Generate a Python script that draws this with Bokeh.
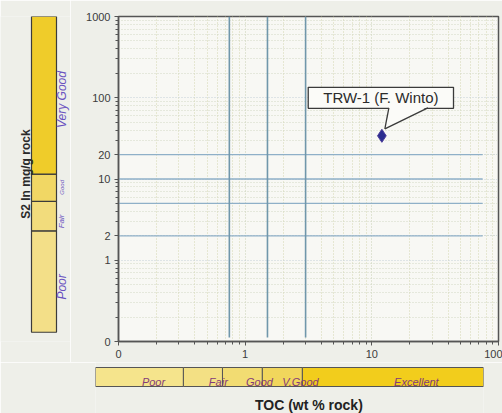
import math

from bokeh.plotting import figure
from bokeh.layouts import row, column
from bokeh.models import Range1d, FixedTicker, CustomJSTickFormatter
from bokeh.core.properties import value
from bokeh.embed import file_html
from bokeh.resources import INLINE

# ---- data -------------------------------------------------------------
sample_names = ["TRW-1 (F. Winto)"]
sample_toc = [12.0]          # wt %
sample_s2 = [34.0]           # mg/g rock

x_ticks = [0.1, 1, 10, 100]
y_ticks = [0.1, 1, 2, 10, 20, 100, 1000]

# guide lines across the plot
toc_guides = [0.75, 1.5, 3.0]
s2_guides = [2, 5, 10, 20]
s2_guide_end = 75

# S2 rating strip (left)
s2_classes = ["Poor", "Fair", "Good", "Very Good"]
s2_bounds = [0.13, 2.3, 5.3, 11.5, 1000]
s2_label_pos = [0.47, 3.0, 7.9, 95]

# TOC rating strip (bottom)
toc_classes = ["Poor", "Fair", "Good", "V.Good", "Excellent"]
toc_bounds = [0.066, 0.325, 0.66, 1.36, 2.81, 75]
toc_label_pos = [0.189, 0.612, 1.29, 2.71, 22.2]

# ---- styling ----------------------------------------------------------
PAGE = "#eeefe9"
PANEL = "#f8f8f4"
AXIS = "#555555"
FONT_NAME = "Liberation Sans"
FONT = value(FONT_NAME)

FRAME_W, FRAME_H = 380, 325
PX_X = FRAME_W / math.log10(x_ticks[-1] / x_ticks[0])
PX_Y = FRAME_H / math.log10(y_ticks[-1] / y_ticks[0])


def nudge(v, px, per_decade):
    """Shift a log-scaled value by a number of screen pixels."""
    return v * 10 ** (px / per_decade)


def log_minor(lo_exp, hi_exp):
    return [k * 10.0 ** e for e in range(lo_exp, hi_exp) for k in range(2, 10)]


# ---- main plot --------------------------------------------------------
p = figure(width=432, height=362, x_axis_type="log", y_axis_type="log",
           x_range=Range1d(x_ticks[0], x_ticks[-1]),
           y_range=Range1d(y_ticks[0], y_ticks[-1]),
           output_backend="svg", toolbar_location=None,
           min_border_left=48, min_border_right=4,
           min_border_top=16, min_border_bottom=21)
p.background_fill_color = PANEL
p.border_fill_color = PAGE
p.outline_line_color = AXIS
p.outline_line_width = 1.5

p.xaxis.ticker = FixedTicker(ticks=x_ticks, minor_ticks=log_minor(-1, 2))
p.yaxis.ticker = FixedTicker(ticks=y_ticks, minor_ticks=log_minor(-1, 3))
fmt = "return tick < 0.5 ? '0' : String(tick);"
p.xaxis.formatter = CustomJSTickFormatter(code=fmt)
p.yaxis.formatter = CustomJSTickFormatter(code=fmt)

for ax in (p.xaxis, p.yaxis):
    ax.axis_line_color = AXIS
    ax.axis_line_width = 1.5
    ax.major_tick_line_color = AXIS
    ax.minor_tick_line_color = AXIS
    ax.major_tick_out = 4
    ax.major_tick_in = 0
    ax.minor_tick_out = 3
    ax.minor_tick_in = 0
    ax.major_label_standoff = 4
    ax.major_label_text_font = FONT_NAME
    ax.major_label_text_font_size = "11px"
    ax.major_label_text_color = "#3c3c3c"

p.xgrid.grid_line_color = "#c9d0b4"
p.xgrid.grid_line_dash = "1 2"
p.xgrid.minor_grid_line_color = "#d4d7b0"
p.xgrid.minor_grid_line_dash = "1 2"
p.ygrid.grid_line_color = "#c4d0d8"
p.ygrid.grid_line_dash = "1 2"
p.ygrid.minor_grid_line_color = "#d2d9c4"
p.ygrid.minor_grid_line_dash = "1 2"

# horizontal S2 guides
p.segment(x0=[x_ticks[0]] * len(s2_guides), y0=s2_guides,
          x1=[s2_guide_end] * len(s2_guides), y1=s2_guides,
          line_color="#8fb0c8", line_width=1.3)
# vertical TOC guides
p.segment(x0=toc_guides, y0=[nudge(y_ticks[0], 4, PX_Y)] * len(toc_guides),
          x1=toc_guides, y1=[y_ticks[-1]] * len(toc_guides),
          line_color="#7097ab", line_width=1.6)

# callout for the sample
p.text(x=sample_toc, y=sample_s2, text=sample_names,
       x_offset=-1, y_offset=-38, anchor="center",
       text_font=FONT, text_font_size="15px", text_color="#2b2b2b",
       background_fill_color="#fbfbf8",
       border_line_color="#3a3a3a", border_line_width=1.3,
       padding=(15, 2))
tx, ty = sample_toc[0], sample_s2[0]
ptr_x = [nudge(tx, 7, PX_X), nudge(tx, 46, PX_X), nudge(tx, 3, PX_X)]
ptr_y = [nudge(ty, 29, PX_Y), nudge(ty, 29, PX_Y), nudge(ty, 7, PX_Y)]
p.patch(ptr_x, ptr_y, fill_color="#fbfbf8", line_color=None)
p.multi_line(xs=[[ptr_x[0], ptr_x[2]], [ptr_x[1], ptr_x[2]]],
             ys=[[nudge(ty, 28, PX_Y), ptr_y[2]], [nudge(ty, 28, PX_Y), ptr_y[2]]],
             line_color="#3a3a3a", line_width=1.3)

p.scatter(sample_toc, sample_s2, marker="diamond", size=13,
          fill_color="#2b2d8f", line_color="#4a3a9a", line_width=1)

# ---- left S2 strip ----------------------------------------------------
pl = figure(width=70, height=362, y_axis_type="log", y_range=p.y_range,
            x_range=Range1d(0, 70), x_axis_location=None, y_axis_location=None,
            output_backend="svg", toolbar_location=None,
            min_border_left=0, min_border_right=0,
            min_border_top=16, min_border_bottom=21)
pl.background_fill_color = PAGE
pl.border_fill_color = PAGE
pl.outline_line_color = None
pl.xgrid.visible = False
pl.ygrid.visible = False

s2_fill = ["#f3df88", "#f2dc7c", "#f1d764", "#efcc2a"]
pl.quad(left=31, right=56, bottom=s2_bounds[:-1], top=s2_bounds[1:],
        fill_color=s2_fill, line_color="#3b3b3b", line_width=1.2)
pl.text(x=[61] * len(s2_classes), y=s2_label_pos, text=s2_classes,
        angle=math.pi / 2, anchor="center", text_font=FONT,
        text_font_size=["12px", "8px", "6px", "12px"],
        text_font_style="italic", text_color="#6a52c0")
pl.text(x=[25], y=[s2_bounds[3]],
        text=["S2 In mg/g rock"], angle=math.pi / 2, anchor="center",
        text_font=FONT, text_font_size="12px", text_font_style="bold",
        text_color="#2a2a2a")

# ---- bottom TOC strip -------------------------------------------------
pb = figure(width=502, height=51, x_axis_type="log",
            x_range=Range1d(toc_bounds[0], toc_bounds[-1]),
            y_range=Range1d(0, 51), x_axis_location=None, y_axis_location=None,
            output_backend="svg", toolbar_location=None,
            min_border_left=95, min_border_right=19,
            min_border_top=0, min_border_bottom=0)
pb.background_fill_color = PAGE
pb.border_fill_color = PAGE
pb.outline_line_color = None
pb.xgrid.visible = False
pb.ygrid.visible = False

toc_fill = ["#f5e48c", "#f3e084", "#f2dc72", "#f1d65c", "#f2cd1c"]
pb.quad(left=toc_bounds[:-1], right=toc_bounds[1:], bottom=27, top=46,
        fill_color=toc_fill, line_color="#555555", line_width=1)
pb.text(x=toc_label_pos, y=[32] * len(toc_classes), text=toc_classes,
        anchor="center", text_font=FONT, text_font_style="italic",
        text_font_size="11px", text_color="#833a7a")

# the x-axis title sits under the middle of the main plot
pb.text(x=[math.sqrt(x_ticks[0] * x_ticks[-1])], y=[9], text=["TOC (wt % rock)"],
        anchor="center", text_font=FONT, text_font_size="14px",
        text_font_style="bold", text_color="#222222")

layout = column(row(pl, p, spacing=0), pb, spacing=0)
open("out.html", "w").write(file_html(layout, INLINE))
